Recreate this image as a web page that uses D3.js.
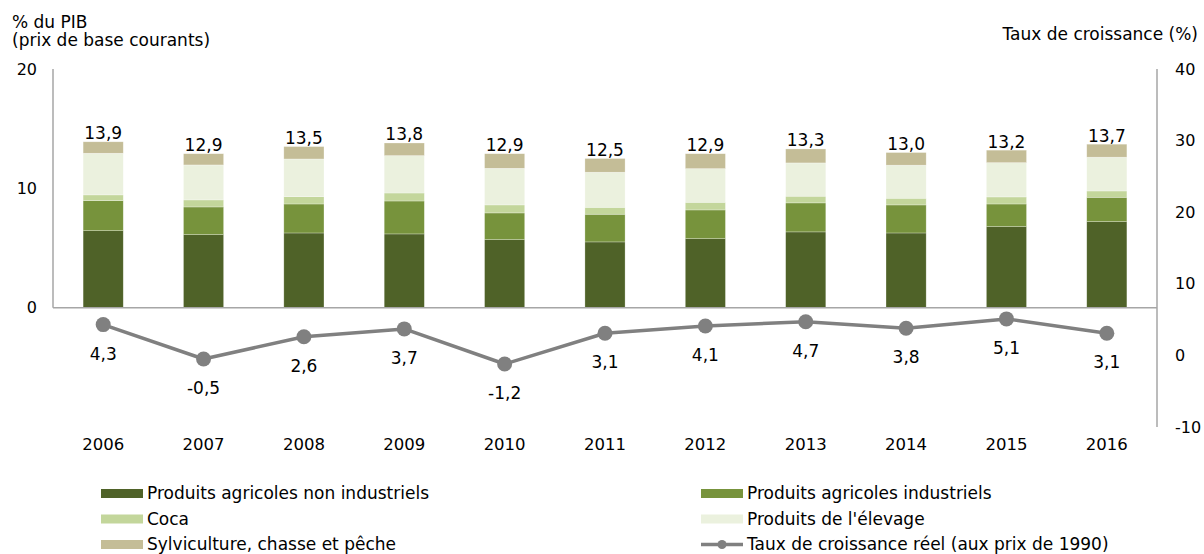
<!DOCTYPE html>
<html>
<head>
<meta charset="utf-8">
<script src="https://cdn.jsdelivr.net/npm/d3@7"></script>
<style>
  html, body { margin: 0; padding: 0; background: #fff; }
  svg { display: block; font-family: "DejaVu Sans", Verdana, sans-serif; }
</style>
</head>
<body>
<svg id="chart" width="1204" height="554"></svg>
<script>
// Agricultural GDP shares (% of GDP, current basic prices) and real growth rate
const years = ["2006","2007","2008","2009","2010","2011","2012","2013","2014","2015","2016"];
const nonIndustriels = [6.45, 6.12, 6.26, 6.18, 5.70, 5.51, 5.78, 6.35, 6.26, 6.79, 7.21];
const industriels    = [2.52, 2.32, 2.43, 2.76, 2.24, 2.32, 2.41, 2.43, 2.35, 1.90, 2.04];
const coca           = [0.48, 0.59, 0.61, 0.67, 0.67, 0.58, 0.64, 0.56, 0.56, 0.59, 0.53];
const elevage        = [3.49, 2.93, 3.16, 3.13, 3.07, 2.94, 2.82, 2.79, 2.77, 2.87, 2.83];
const sylviculture   = [0.96, 0.94, 1.04, 1.06, 1.22, 1.15, 1.25, 1.17, 1.06, 1.05, 1.09];
const croissance     = [4.3, -0.5, 2.6, 3.7, -1.2, 3.1, 4.1, 4.7, 3.8, 5.1, 3.1];

const leftTicks  = [0, 10, 20];
const rightTicks = [-10, 0, 10, 20, 30, 40];

const series = [
  { key: "nonInd", label: "Produits agricoles non industriels", values: nonIndustriels, color: "#4F6228" },
  { key: "ind",    label: "Produits agricoles industriels",     values: industriels,    color: "#77933C" },
  { key: "coca",   label: "Coca",                               values: coca,           color: "#C3D69B" },
  { key: "elev",   label: "Produits de l'élevage",              values: elevage,        color: "#EBF1DE" },
  { key: "sylv",   label: "Sylviculture, chasse et pêche",      values: sylviculture,   color: "#C4BD97" }
];
const lineLabel = "Taux de croissance réel (aux prix de 1990)";

// French number format: decimal comma, plain hyphen for negatives
const fr = d3.formatLocale({ decimal: ",", thousands: " ", grouping: [3], currency: ["", " €"], minus: "-" });
const fmt = fr.format(".1f");
const fmtInt = fr.format("d");

const svg = d3.select("#chart");

const plotLeft = 53, plotRight = 1157, plotTop = 69, plotBottom = 427;

const x = d3.scaleBand().domain(years).range([plotLeft, plotRight]).paddingInner(0.6).paddingOuter(0.3);
const yL = d3.scaleLinear().domain([-10, 20]).range([plotBottom, plotTop]);
const yR = d3.scaleLinear().domain([-10, 40]).range([plotBottom, plotTop]);

// Build rows for the stack
const rows = years.map((yr, i) => {
  const r = { year: yr };
  series.forEach(s => r[s.key] = s.values[i]);
  return r;
});
const stacked = d3.stack().keys(series.map(s => s.key))(rows);

// Bars
const gBars = svg.append("g");
stacked.forEach((layer, li) => {
  gBars.append("g")
    .attr("fill", series[li].color)
    .selectAll("rect")
    .data(layer)
    .join("rect")
    .attr("x", d => x(d.data.year))
    .attr("width", x.bandwidth())
    .attr("y", d => yL(d[1]))
    .attr("height", d => yL(d[0]) - yL(d[1]))
    .attr("stroke", "#ffffff")
    .attr("stroke-width", 0.6)
    .attr("stroke-opacity", 0.45);
});

// Totals above bars
const totals = rows.map(r => series.reduce((a, s) => a + r[s.key], 0));
svg.append("g")
  .selectAll("text")
  .data(totals)
  .join("text")
  .attr("x", (d, i) => x(years[i]) + x.bandwidth() / 2)
  .attr("y", d => yL(d) - 2.5)
  .attr("text-anchor", "middle")
  .attr("font-size", 17)
  .attr("fill", "#000")
  .text(d => fmt(d));

// Baseline at zero
svg.append("line")
  .attr("x1", plotLeft).attr("x2", plotRight)
  .attr("y1", yL(0)).attr("y2", yL(0))
  .attr("stroke", "#A6A6A6").attr("stroke-width", 1.5);

// Left axis (only spans 0..20)
const axL = svg.append("g")
  .attr("transform", `translate(${plotLeft},0)`)
  .call(d3.axisLeft(yL).tickValues(leftTicks).tickFormat(fmtInt).tickSize(0).tickPadding(16));
axL.select(".domain").remove();
axL.selectAll("text").attr("font-size", 16).attr("fill", "#000").attr("font-family", "DejaVu Sans, Verdana, sans-serif");
svg.append("line")
  .attr("x1", plotLeft).attr("x2", plotLeft)
  .attr("y1", yL(20)).attr("y2", yL(0))
  .attr("stroke", "#A6A6A6").attr("stroke-width", 1.5);

// Right axis
const axR = svg.append("g")
  .attr("transform", `translate(${plotRight},0)`)
  .call(d3.axisRight(yR).tickValues(rightTicks).tickFormat(fmtInt).tickSize(0).tickPadding(18));
axR.select(".domain").remove();
axR.selectAll("text").attr("font-size", 16).attr("fill", "#000").attr("font-family", "DejaVu Sans, Verdana, sans-serif");
svg.append("line")
  .attr("x1", plotRight).attr("x2", plotRight)
  .attr("y1", yR(40)).attr("y2", yR(-10))
  .attr("stroke", "#A6A6A6").attr("stroke-width", 1.5);

// Year labels
svg.append("g")
  .selectAll("text")
  .data(years)
  .join("text")
  .attr("x", d => x(d) + x.bandwidth() / 2)
  .attr("y", 450)
  .attr("text-anchor", "middle")
  .attr("font-size", 16.5)
  .attr("fill", "#000")
  .text(d => d);

// Growth line
const cx = (d, i) => x(years[i]) + x.bandwidth() / 2;
svg.append("path")
  .datum(croissance)
  .attr("fill", "none")
  .attr("stroke", "#808080")
  .attr("stroke-width", 3.5)
  .attr("stroke-linejoin", "round")
  .attr("d", d3.line().x(cx).y(d => yR(d)));
svg.append("g")
  .selectAll("circle")
  .data(croissance)
  .join("circle")
  .attr("cx", cx)
  .attr("cy", d => yR(d))
  .attr("r", 7.5)
  .attr("fill", "#808080");
svg.append("g")
  .selectAll("text")
  .data(croissance)
  .join("text")
  .attr("x", cx)
  .attr("y", d => yR(d) + 35)
  .attr("text-anchor", "middle")
  .attr("font-size", 17)
  .attr("fill", "#000")
  .text(d => fmt(d));

// Axis titles
svg.append("text").attr("x", 12).attr("y", 28).attr("font-size", 17).attr("fill", "#000").text("% du PIB");
svg.append("text").attr("x", 12).attr("y", 46).attr("font-size", 17).attr("fill", "#000").text("(prix de base courants)");
svg.append("text").attr("x", 1198).attr("y", 40).attr("text-anchor", "end").attr("font-size", 17).attr("fill", "#000").text("Taux de croissance (%)");

// Legend
const legendItems = [
  { type: "rect", s: series[0], col: 0, row: 0 },
  { type: "rect", s: series[1], col: 1, row: 0 },
  { type: "rect", s: series[2], col: 0, row: 1 },
  { type: "rect", s: series[3], col: 1, row: 1 },
  { type: "rect", s: series[4], col: 0, row: 2 },
  { type: "line", label: lineLabel, col: 1, row: 2 }
];
const colX = [101, 701];
const rowY = [493.5, 519, 544.5];
const lg = svg.append("g");
legendItems.forEach(it => {
  const g = lg.append("g").attr("transform", `translate(${colX[it.col]},${rowY[it.row]})`);
  if (it.type === "rect") {
    g.append("rect").attr("x", 0).attr("y", -4.5).attr("width", 42).attr("height", 9).attr("fill", it.s.color);
  } else {
    g.append("line").attr("x1", 0).attr("x2", 42).attr("y1", 0).attr("y2", 0)
      .attr("stroke", "#808080").attr("stroke-width", 3.5);
    g.append("circle").attr("cx", 21).attr("cy", 0).attr("r", 4.5).attr("fill", "#808080");
  }
  g.append("text").attr("x", 46).attr("y", 5.5).attr("font-size", 17).attr("fill", "#000")
    .text(it.type === "rect" ? it.s.label : it.label);
});
</script>
</body>
</html>
